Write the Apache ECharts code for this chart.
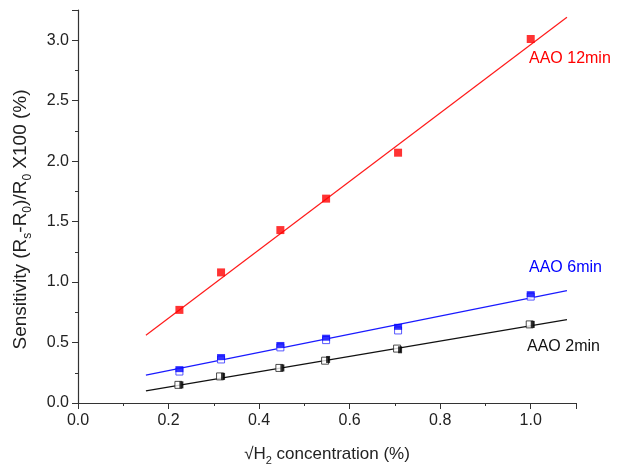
<!DOCTYPE html>
<html>
<head>
<meta charset="utf-8">
<script src="https://cdn.jsdelivr.net/npm/echarts@6/dist/echarts.min.js"></script>
<style>
  html, body { margin: 0; padding: 0; background: #fff; }
  #chart { width: 618px; height: 470px; }
</style>
</head>
<body>
<div id="chart"></div>
<script>
// sqrt(H2 %) positions
var xValues = [0.224, 0.316, 0.447, 0.548, 0.707, 1.0];

// AAO 12min
var red12 = [0.77, 1.08, 1.43, 1.69, 2.07, 3.01];
// AAO 6min (filled / open)
var blue6 = [0.28, 0.38, 0.48, 0.54, 0.63, 0.90];
var blue6b = [0.26, 0.36, 0.46, 0.52, 0.60, 0.88];
// AAO 2min (filled / open)
var black2 = [0.15, 0.22, 0.29, 0.36, 0.44, 0.65];
var black2b = [0.15, 0.22, 0.29, 0.35, 0.45, 0.65];

// linear fit end points
var fitX = [0.15, 1.08];
var fit12 = [0.56, 3.19];
var fit6 = [0.23, 0.93];
var fit2 = [0.10, 0.69];

function pairs(xs, ys) {
  return xs.map(function (x, i) { return [x, ys[i]]; });
}

var chart = echarts.init(document.getElementById('chart'));

var font = 'Liberation Sans, Arial, sans-serif';

var option = {
  backgroundColor: '#fff',
  animation: false,
  grid: { left: 78, right: 42, top: 10, bottom: 67, outerBoundsMode: 'none', containLabel: false },
  xAxis: {
    type: 'value',
    min: 0,
    max: 1.1,
    interval: 0.2,
    name: '{n|√H}{s|2}{n| concentration (%)}',
    nameLocation: 'middle',
    nameGap: 39,
    nameTextStyle: {
      rich: {
        n: { fontSize: 17, fontFamily: font, color: '#222' },
        s: { fontSize: 11, fontFamily: font, color: '#222', padding: [13, 0, 0, 0] }
      }
    },
    axisLine: { lineStyle: { color: '#333', width: 1.2 } },
    axisTick: { inside: false, length: 6, lineStyle: { color: '#333' } },
    minorTick: { show: true, splitNumber: 2, length: 3, lineStyle: { color: '#333' } },
    splitLine: { show: false },
    axisLabel: {
      fontSize: 16, fontFamily: font, color: '#222', margin: 10,
      showMaxLabel: false,
      formatter: function (v) { return v.toFixed(1); }
    }
  },
  yAxis: {
    type: 'value',
    min: 0,
    max: 3.25,
    interval: 0.5,
    name: '{n|Sensitivity (R}{s|s}{n|-R}{s|0}{n|)/R}{s|0}{n| X100 (%)}',
    nameLocation: 'middle',
    nameRotate: 90,
    nameGap: 44,
    nameTextStyle: {
      padding: [0, 26, 0, 0],
      rich: {
        n: { fontSize: 19, fontFamily: font, color: '#222' },
        s: { fontSize: 12, fontFamily: font, color: '#222', padding: [14, 0, 0, 0] }
      }
    },
    axisLine: { show: true, lineStyle: { color: '#333', width: 1.2 } },
    axisTick: { show: true, length: 6, lineStyle: { color: '#333' } },
    minorTick: { show: true, splitNumber: 2, length: 3, lineStyle: { color: '#333' } },
    splitLine: { show: false },
    axisLabel: {
      fontSize: 16, fontFamily: font, color: '#222', margin: 9,
      showMaxLabel: false,
      formatter: function (v) { return v.toFixed(1); }
    }
  },
  series: [
    { type: 'line', data: pairs(fitX, fit12), symbol: 'none', lineStyle: { color: '#ff1a1a', width: 1.2 } },
    { type: 'line', data: pairs(fitX, fit6), symbol: 'none', lineStyle: { color: '#1a1aff', width: 1.2 } },
    { type: 'line', data: pairs(fitX, fit2), symbol: 'none', lineStyle: { color: '#111', width: 1.2 } },
    {
      type: 'scatter', data: pairs(xValues, red12), symbol: 'rect', symbolSize: 8,
      itemStyle: { color: '#ff0000' }, z: 5
    },
    {
      type: 'scatter', data: pairs(xValues, blue6b), symbol: 'rect', symbolSize: 7,
      itemStyle: { color: '#fff', borderColor: '#3030ff', borderWidth: 1 }, z: 4
    },
    {
      type: 'scatter', data: pairs(xValues, blue6), symbol: 'rect', symbolSize: [8, 6],
      itemStyle: { color: '#0000ff' }, z: 5
    },
    {
      type: 'scatter', data: pairs(xValues, black2b), symbol: 'rect', symbolSize: 7,
      symbolOffset: [-1, 0],
      itemStyle: { color: '#fff', borderColor: '#222', borderWidth: 1 }, z: 4
    },
    {
      type: 'scatter', data: pairs(xValues, black2), symbol: 'rect', symbolSize: [4, 7],
      symbolOffset: [2, 0],
      itemStyle: { color: '#000' }, z: 5
    }
  ],
  graphic: [
    { type: 'text', left: 529, top: 51, style: { text: 'AAO 12min', fill: '#ff0000', font: '16px ' + font } },
    { type: 'text', left: 529, top: 260, style: { text: 'AAO 6min', fill: '#0000ff', font: '16px ' + font } },
    { type: 'text', left: 527, top: 339, style: { text: 'AAO 2min', fill: '#111', font: '16px ' + font } }
  ]
};

chart.setOption(option);
</script>
</body>
</html>
